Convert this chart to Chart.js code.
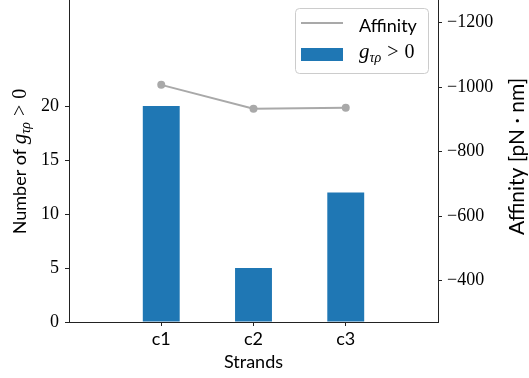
<!DOCTYPE html>
<html lang="en">
<head>
<meta charset="UTF-8">
<title>Strands affinity</title>
<script src="https://cdn.jsdelivr.net/npm/chart.js"></script>
<style>
  html, body { margin: 0; padding: 0; background: #fff; overflow: hidden; }
  #wrap { position: relative; width: 529px; height: 378px; }
</style>
</head>
<body>
<div id="wrap"><canvas id="chart" width="529" height="378"></canvas></div>
<script>
const strands = ['c1', 'c2', 'c3'];
const counts = [20, 5, 12];
const affinity = [-1007, -933, -936];
const countTicks = [0, 5, 10, 15, 20];
const affinityTicks = [-1200, -1000, -800, -600, -400];

const SANS = 'Lato, "DejaVu Sans", sans-serif';
const SERIF = '"Liberation Serif", "DejaVu Serif", serif';
const INK = '#222';
const BLUE = '#1f77b4';
const GREY = '#a9a9a9';

// one empty slot either side so the bars sit like matplotlib's xlim
const labels = ['', ...strands, ''];
const pad = arr => [null, ...arr, null];

function fmtNum(v) { return v < 0 ? '\u2212' + Math.abs(v) : String(v); }

// g_{tau rho} > 0, as pieces of text
const mathParts = [
    { t: 'g', font: 'italic 21px ' + SERIF },
    { t: '\u03c4\u03c1', font: 'italic 14px ' + SERIF, dy: 4, gap: 6 },
    { t: '>', font: '20px ' + SERIF, gap: 6 },
    { t: '0', font: '20px ' + SERIF }
];

function runWidth(ctx, parts) {
    let w = 0;
    parts.forEach(p => { ctx.font = p.font; w += ctx.measureText(p.t).width + (p.gap || 0); });
    return w;
}

function drawRun(ctx, x, y, parts) {
    let cx = x;
    parts.forEach(p => {
        ctx.font = p.font;
        ctx.fillText(p.t, cx, y + (p.dy || 0));
        cx += ctx.measureText(p.t).width + (p.gap || 0);
    });
}

const overlay = {
    id: 'overlay',
    afterDraw(chart) {
        const ctx = chart.ctx;
        const area = chart.chartArea;
        ctx.save();
        ctx.fillStyle = '#000';
        ctx.textBaseline = 'alphabetic';

        // x title
        ctx.font = '18px ' + SANS;
        ctx.textAlign = 'center';
        ctx.fillText('Strands', (area.left + area.right) / 2, 368);
        ctx.textAlign = 'left';

        // left title, rotated
        const leftParts = [{ t: 'Number of ', font: '18px ' + SANS }, ...mathParts];
        const lw = runWidth(ctx, leftParts);
        ctx.save();
        ctx.translate(26, 161.5);
        ctx.rotate(-Math.PI / 2);
        drawRun(ctx, -lw / 2, 0, leftParts);
        ctx.restore();

        // right title, rotated
        ctx.save();
        ctx.translate(523.5, 156.5);
        ctx.rotate(-Math.PI / 2);
        ctx.font = '21px ' + SANS;
        ctx.textAlign = 'center';
        ctx.fillText('Affinity [pN \u00b7 nm]', 0, 0);
        ctx.restore();

        // legend
        ctx.beginPath();
        ctx.roundRect(295.5, 8.5, 133, 65, 4);
        ctx.fillStyle = 'rgba(255,255,255,0.8)';
        ctx.fill();
        ctx.strokeStyle = '#cccccc';
        ctx.lineWidth = 1;
        ctx.stroke();

        ctx.strokeStyle = GREY;
        ctx.lineWidth = 2;
        ctx.beginPath();
        ctx.moveTo(301, 23);
        ctx.lineTo(343, 23);
        ctx.stroke();
        ctx.fillStyle = BLUE;
        ctx.fillRect(301, 48, 42, 13);

        ctx.fillStyle = '#000';
        ctx.font = '18px ' + SANS;
        ctx.fillText('Affinity', 359, 32);
        drawRun(ctx, 359, 58, mathParts);

        ctx.restore();
    }
};

const tickFont = { family: SERIF, size: 18 };

new Chart(document.getElementById('chart'), {
    type: 'bar',
    data: {
        labels: labels,
        datasets: [
            {
                type: 'line',
                label: 'Affinity',
                data: pad(affinity),
                yAxisID: 'y2',
                borderColor: GREY,
                backgroundColor: GREY,
                borderWidth: 2,
                pointRadius: 4,
                pointBorderWidth: 0,
                pointBackgroundColor: GREY,
                spanGaps: false
            },
            {
                label: 'g > 0',
                data: pad(counts),
                yAxisID: 'y',
                backgroundColor: BLUE,
                categoryPercentage: 1,
                barPercentage: 0.4
            }
        ]
    },
    options: {
        responsive: false,
        animation: false,
        layout: { padding: 0, autoPadding: false },
        plugins: { legend: { display: false }, tooltip: { enabled: false } },
        scales: {
            x: {
                offset: false,
                grid: {
                    offset: false,
                    drawOnChartArea: false,
                    tickLength: 4,
                    color: c => (c.index === 0 || c.index === labels.length - 1) ? 'rgba(0,0,0,0)' : INK
                },
                border: { color: INK, width: 1 },
                ticks: { color: '#000', font: { family: SANS, size: 18 }, padding: 2, maxRotation: 0, autoSkip: false },
                afterFit: s => { s.height = 56; s.paddingLeft = 0; s.paddingRight = 0; }
            },
            y: {
                position: 'left',
                min: 0,
                max: 29.83,
                afterBuildTicks: s => { s.ticks = countTicks.map(v => ({ value: v })); },
                grid: { drawOnChartArea: false, tickLength: 4, color: INK },
                border: { color: INK, width: 1 },
                ticks: { color: '#000', font: tickFont, padding: 6, callback: v => fmtNum(v) },
                afterFit: s => { s.width = 69; s.paddingTop = 0; s.paddingBottom = 0; }
            },
            y2: {
                position: 'right',
                reverse: true,
                min: -1270,
                max: -272,
                afterBuildTicks: s => { s.ticks = affinityTicks.map(v => ({ value: v })); },
                grid: { drawOnChartArea: false, tickLength: 4, color: INK },
                border: { color: INK, width: 1 },
                ticks: { color: '#000', font: tickFont, padding: 5, callback: v => fmtNum(v) },
                afterFit: s => { s.width = 91; s.paddingTop = 0; s.paddingBottom = 0; }
            }
        }
    },
    plugins: [overlay]
});
</script>
</body>
</html>
